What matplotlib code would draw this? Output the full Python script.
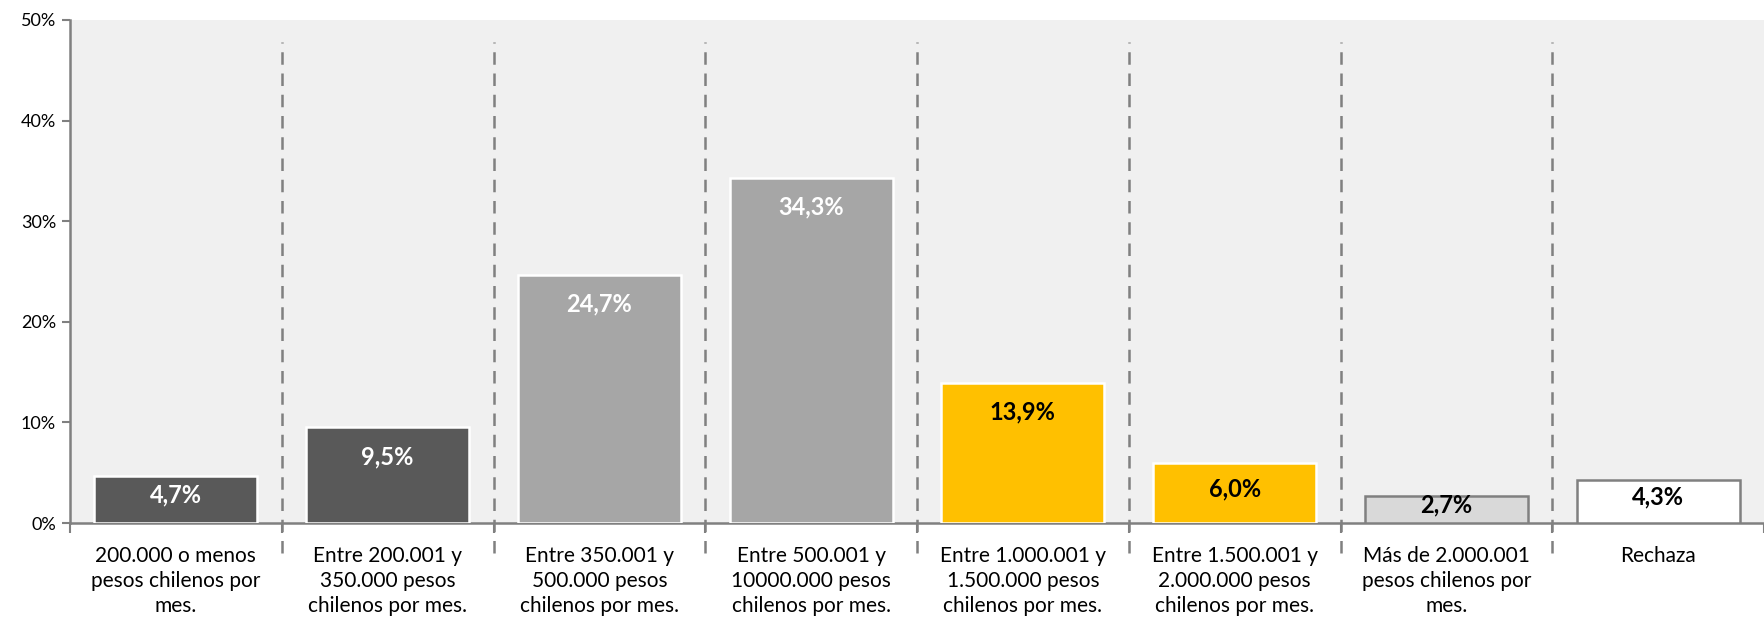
import matplotlib
matplotlib.use("Agg")
import matplotlib.pyplot as plt

categories = [
    "200.000 o menos\npesos chilenos por\nmes.",
    "Entre 200.001 y\n350.000 pesos\nchilenos por mes.",
    "Entre 350.001 y\n500.000 pesos\nchilenos por mes.",
    "Entre 500.001 y\n10000.000 pesos\nchilenos por mes.",
    "Entre 1.000.001 y\n1.500.000 pesos\nchilenos por mes.",
    "Entre 1.500.001 y\n2.000.000 pesos\nchilenos por mes.",
    "Más de 2.000.001\npesos chilenos por\nmes.",
    "Rechaza",
]
values = [4.7, 9.5, 24.7, 34.3, 13.9, 6.0, 2.7, 4.3]
value_labels = ["4,7%", "9,5%", "24,7%", "34,3%", "13,9%", "6,0%", "2,7%", "4,3%"]
ytick_values = [0, 10, 20, 30, 40, 50]
ytick_labels = ["0%", "10%", "20%", "30%", "40%", "50%"]

bar_colors = ["#595959", "#595959", "#A6A6A6", "#A6A6A6", "#FFC000", "#FFC000", "#D9D9D9", "#FFFFFF"]
edge_colors = ["#FFFFFF", "#FFFFFF", "#FFFFFF", "#FFFFFF", "#FFFFFF", "#FFFFFF", "#808080", "#808080"]
text_colors = ["white", "white", "white", "white", "black", "black", "black", "black"]

plt.rcParams['font.family'] = ['Lato', 'DejaVu Sans']

fig = plt.figure(figsize=(17.64, 6.24), dpi=100)
ax = fig.add_axes([70/1764, 1 - 523/624, 1 - 70/1764, (523 - 20)/624])
ax.set_facecolor("#F0F0F0")

x = list(range(len(categories)))
ax.bar(x, values, width=0.77, color=bar_colors, edgecolor=edge_colors, linewidth=1.8, zorder=3)

for xi, v, lab, tc in zip(x, values, value_labels, text_colors):
    yc = max(v - 2.9, v / 2 + 0.4)
    ax.text(xi, yc, lab, ha="center", va="center", fontsize=17, fontweight="bold", color=tc, zorder=4)

ax.set_xlim(-0.5, -0.5 + 1694 / 213.4)
ax.set_ylim(0, 50)

for b in range(len(categories) - 1):
    ax.plot([b + 0.5, b + 0.5], [-3.0, 47.8], color="#808080", lw=1.8,
            linestyle=(0, (5, 3.5)), clip_on=False, zorder=2)

ax.set_yticks(ytick_values)
ax.set_yticklabels(ytick_labels, fontsize=13)
ax.set_xticks([b + 0.5 for b in range(-1, len(categories))], minor=False)
ax.set_xticklabels([])
ax.tick_params(axis="x", length=7, width=1.5, color="#808080", direction="out")
ax.tick_params(axis="y", length=6, width=1.5, color="#808080", direction="out", pad=4)

for xi, c in zip(x, categories):
    ax.text(xi, -2.3, c, ha="center", va="top", fontsize=15, linespacing=1.3,
            transform=ax.transData, clip_on=False)

for s in ["top", "right"]:
    ax.spines[s].set_visible(False)
for s in ["left", "bottom"]:
    ax.spines[s].set_color("#808080")
    ax.spines[s].set_linewidth(1.8)

fig.savefig("out.png", dpi=100, facecolor="white")
